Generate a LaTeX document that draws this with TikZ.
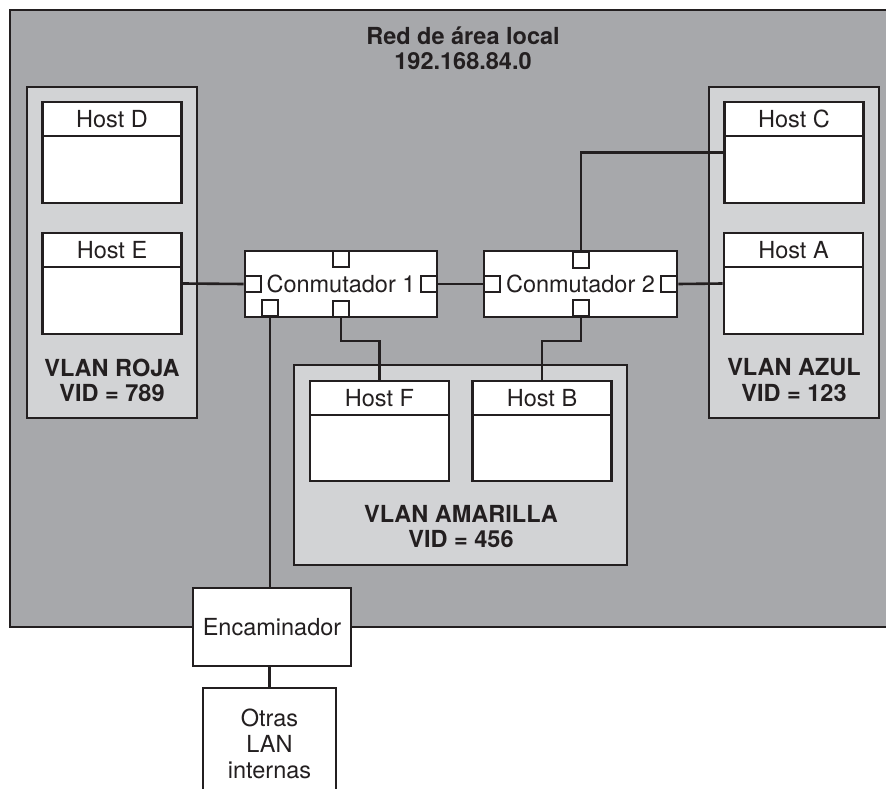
\documentclass[tikz,border=0pt]{standalone}
\usepackage{fontspec}
\setmainfont{TeX Gyre Heros}
\definecolor{outerg}{HTML}{A7A8AB}
\definecolor{vlang}{HTML}{D2D3D5}
\definecolor{lc}{HTML}{231F20}
\begin{document}
\begin{tikzpicture}[x=1pt,y=-1pt,
  every node/.style={font=\fontsize{23.5}{25.5}\selectfont, text=lc},
  host/.style={draw=lc, line width=2.8pt, fill=white, inner sep=0, minimum width=139pt, minimum height=101pt,
    path picture={\draw[lc,line width=1.4pt] ([yshift=-34pt]path picture bounding box.north west) -- ([yshift=-34pt]path picture bounding box.north east);}},
  htext/.style={inner sep=0, anchor=center},
  vlanbox/.style={draw=lc, line width=1.8pt, fill=vlang},
  vtext/.style={inner sep=0, align=center, font=\fontsize{23.5}{25.5}\selectfont\bfseries},
  sw/.style={draw=lc, line width=2.8pt, fill=white, minimum width=192pt, minimum height=66pt, inner sep=0},
  port/.style={draw=lc, line width=2.4pt, fill=white, minimum size=16pt, inner sep=0},
  conn/.style={draw=lc, line width=2.6pt},
  boxn/.style={draw=lc, line width=2.8pt, fill=white, inner sep=0, align=center}
]
\useasboundingbox (0,0) rectangle (886,789);
% outer LAN
\fill[outerg] (10,10) rectangle (886,627);
\draw[lc, line width=1.8pt] (886,10) -- (10,10) -- (10,627) -- (886,627);
\node[vtext] (title) at (463,48.5) {Red de área local\\192.168.84.0};
% VLAN boxes
\draw[vlanbox] (27,87) rectangle (197,418);
\draw[vlanbox] (709,87) rectangle (879,418);
\draw[vlanbox] (294,365) rectangle (627,565);
\node[vtext] (roja) at (112,380.5) {VLAN ROJA\\VID = 789};
\node[vtext] (azul) at (794,380) {VLAN AZUL\\VID = 123};
\node[vtext] (amar) at (461,526.5) {VLAN AMARILLA\\VID = 456};
% hosts
\node[host] (hD) at (112,152.5) {};
\node[htext] at (112,119) {Host D};
\node[host] (hE) at (112,283.5) {};
\node[htext] at (112,250) {Host E};
\node[host] (hC) at (794,152.5) {};
\node[htext] at (794,119) {Host C};
\node[host] (hA) at (793.5,283.5) {};
\node[htext] at (793.5,250) {Host A};
\node[host, minimum height=100pt] (hF) at (379.5,431) {};
\node[htext] at (379.5,398) {Host F};
\node[host, minimum height=100pt] (hB) at (542,431) {};
\node[htext] at (542,398) {Host B};
% switches
\node[sw] (c1) at (341,284) {Conmutador 1};
\node[port, anchor=north] (c1t) at (c1.north) {};
\node[port, anchor=west] (c1l) at (c1.west) {};
\node[port, anchor=east] (c1r) at (c1.east) {};
\node[port, anchor=south] (c1b1) at (270,317) {};
\node[port, anchor=south] (c1b2) at (c1.south) {};
\node[sw, minimum width=193pt] (c2) at (580.5,284) {Conmutador 2};
\node[port, anchor=north] (c2t) at (581,251) {};
\node[port, anchor=west] (c2l) at (c2.west) {};
\node[port, anchor=east] (c2r) at (c2.east) {};
\node[port, anchor=south] (c2b) at (581,317) {};
% router and other LANs
\node[boxn, minimum width=158pt, minimum height=78pt] (rt) at (272,627) {Encaminador};
\node[boxn, minimum width=133pt, minimum height=112pt, font=\fontsize{23.5}{26}\selectfont] (ot) at (269.5,744) {Otras\\LAN\\internas};
% connectors
\coordinate (j1) at (341,341);
\coordinate (j2) at (581,341);
\draw[conn] (hE.east) -- (c1l.west);
\draw[conn] (c1r.east) -- (c2l.west);
\draw[conn] (c2r.east) -- (hA.west);
\draw[conn] (c2t.north) |- (hC.west);
\draw[conn] (c1b2.south) -- (j1) -| (hF.north);
\draw[conn] (c2b.south) -- (j2) -| (hB.north);
\draw[conn] (c1b1.south) -- (c1b1.south |- rt.north);
\draw[conn] (ot.north) -- (ot.north |- rt.south);
\end{tikzpicture}
\end{document}
